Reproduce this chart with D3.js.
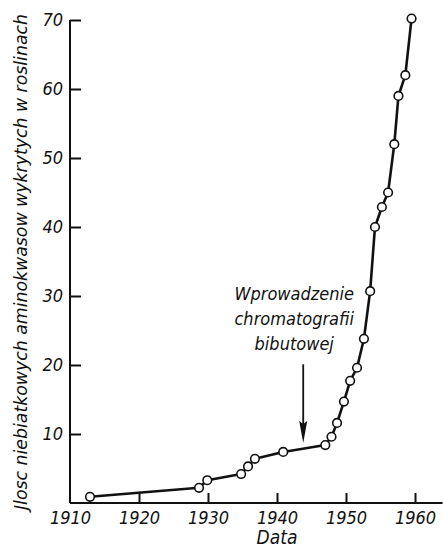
<!DOCTYPE html>
<html>
<head>
<meta charset="utf-8">
<script src="https://cdn.jsdelivr.net/npm/d3@7"></script>
<style>
  body { margin: 0; background: #fff; }
  text { font-family: "DejaVu Sans Condensed", "DejaVu Sans", sans-serif; font-stretch: condensed; font-style: italic; fill: #111; }
</style>
</head>
<body>
<div id="chart"></div>
<script>
// data
var years  = [1912.9, 1928.7, 1929.9, 1934.8, 1935.8, 1936.8, 1940.9, 1947.0, 1947.9, 1948.7, 1949.7, 1950.6,
              1951.6, 1952.6, 1953.5, 1954.2, 1955.2, 1956.1, 1957.0, 1957.6, 1958.6, 1959.5];
var counts = [0.9, 2.2, 3.3, 4.2, 5.3, 6.4, 7.4, 8.4, 9.6, 11.6, 14.7, 17.7,
              19.6, 23.8, 30.7, 40, 42.9, 45, 52, 59, 62, 70.2];
var xTicks = [1910, 1920, 1930, 1940, 1950, 1960];
var yTicks = [10, 20, 30, 40, 50, 60, 70];
var noteLines = ["Wprowadzenie", "chromatografii", "bibutowej"];
var noteYear = 1943.8;

var svgWidth = 443;
var svgHeight = 548;

var svg = d3.select("#chart")
    .append("svg")
    .attr("width", svgWidth)
    .attr("height", svgHeight);

// scales
var x = d3.scaleLinear().domain([1910, 1964]).range([70, 442.6]);
var y = d3.scaleLinear().domain([0, 70]).range([503, 20]);

// axes, ticks pointing inside
var bottomAxis = d3.axisBottom(x).tickValues(xTicks).tickSize(-10).tickPadding(8).tickFormat(d3.format("d"));
var leftAxis = d3.axisLeft(y).tickValues(yTicks).tickSize(-11).tickPadding(7);

var gx = svg.append("g").attr("transform", "translate(0," + y(0) + ")").call(bottomAxis);
var gy = svg.append("g").attr("transform", "translate(" + x(1910) + ",0)").call(leftAxis);

[gx, gy].forEach(function(g) {
    g.attr("font-family", null).attr("font-size", null);
    g.select(".domain").attr("stroke", "#111").attr("stroke-width", 2);
    g.selectAll(".tick line").attr("stroke", "#111").attr("stroke-width", 2);
    g.selectAll(".tick text").style("font-size", "18px").style("fill", "#111");
});
gx.select(".tick line").remove(); // no tick at origin
gx.select(".domain").attr("d", "M" + x(1910) + ",0H" + x(1964));
gy.select(".domain").attr("d", "M0," + y(0) + "V" + y(70));

// axis titles
svg.append("text")
    .attr("x", x(1940))
    .attr("y", 544)
    .attr("text-anchor", "middle")
    .style("font-size", "19px")
    .text("Data");

svg.append("text")
    .attr("transform", "translate(27,262) rotate(-90)")
    .attr("text-anchor", "middle")
    .attr("textLength", 496)
    .attr("lengthAdjust", "spacingAndGlyphs")
    .style("font-size", "18px")
    .text("Jlosc niebiatkowych aminokwasow wykrytych w roslinach");

// the line and the points
var line = d3.line()
    .x(function(d, i) { return x(years[i]); })
    .y(function(d) { return y(d); });

svg.append("path")
    .datum(counts)
    .attr("d", line)
    .attr("fill", "none")
    .attr("stroke", "#111")
    .attr("stroke-width", 2.6)
    .attr("stroke-linejoin", "round");

svg.selectAll("circle")
    .data(counts)
    .enter()
    .append("circle")
    .attr("cx", function(d, i) { return x(years[i]); })
    .attr("cy", function(d) { return y(d); })
    .attr("r", 4.3)
    .attr("fill", "#fff")
    .attr("stroke", "#111")
    .attr("stroke-width", 1.6);

// annotation with arrow
var ax = x(noteYear), aTop = y(20.1), aTip = y(8.7);
svg.append("line")
    .attr("x1", ax).attr("x2", ax)
    .attr("y1", aTop).attr("y2", aTip - 10)
    .attr("stroke", "#111")
    .attr("stroke-width", 1.8);

svg.append("path")
    .attr("d", "M" + (ax - 4) + "," + (aTip - 22) + "L" + ax + "," + aTip + "L" + (ax + 4) + "," + (aTip - 22) + "L" + ax + "," + (aTip - 19) + "Z")
    .attr("fill", "#111");

svg.append("g").selectAll("text")
    .data(noteLines)
    .enter()
    .append("text")
    .attr("x", x(noteYear) - 9)
    .attr("y", function(d, i) { return 300 + i * 25; })
    .attr("text-anchor", "middle")
    .style("font-size", "18px")
    .text(function(d) { return d; });
</script>
</body>
</html>
